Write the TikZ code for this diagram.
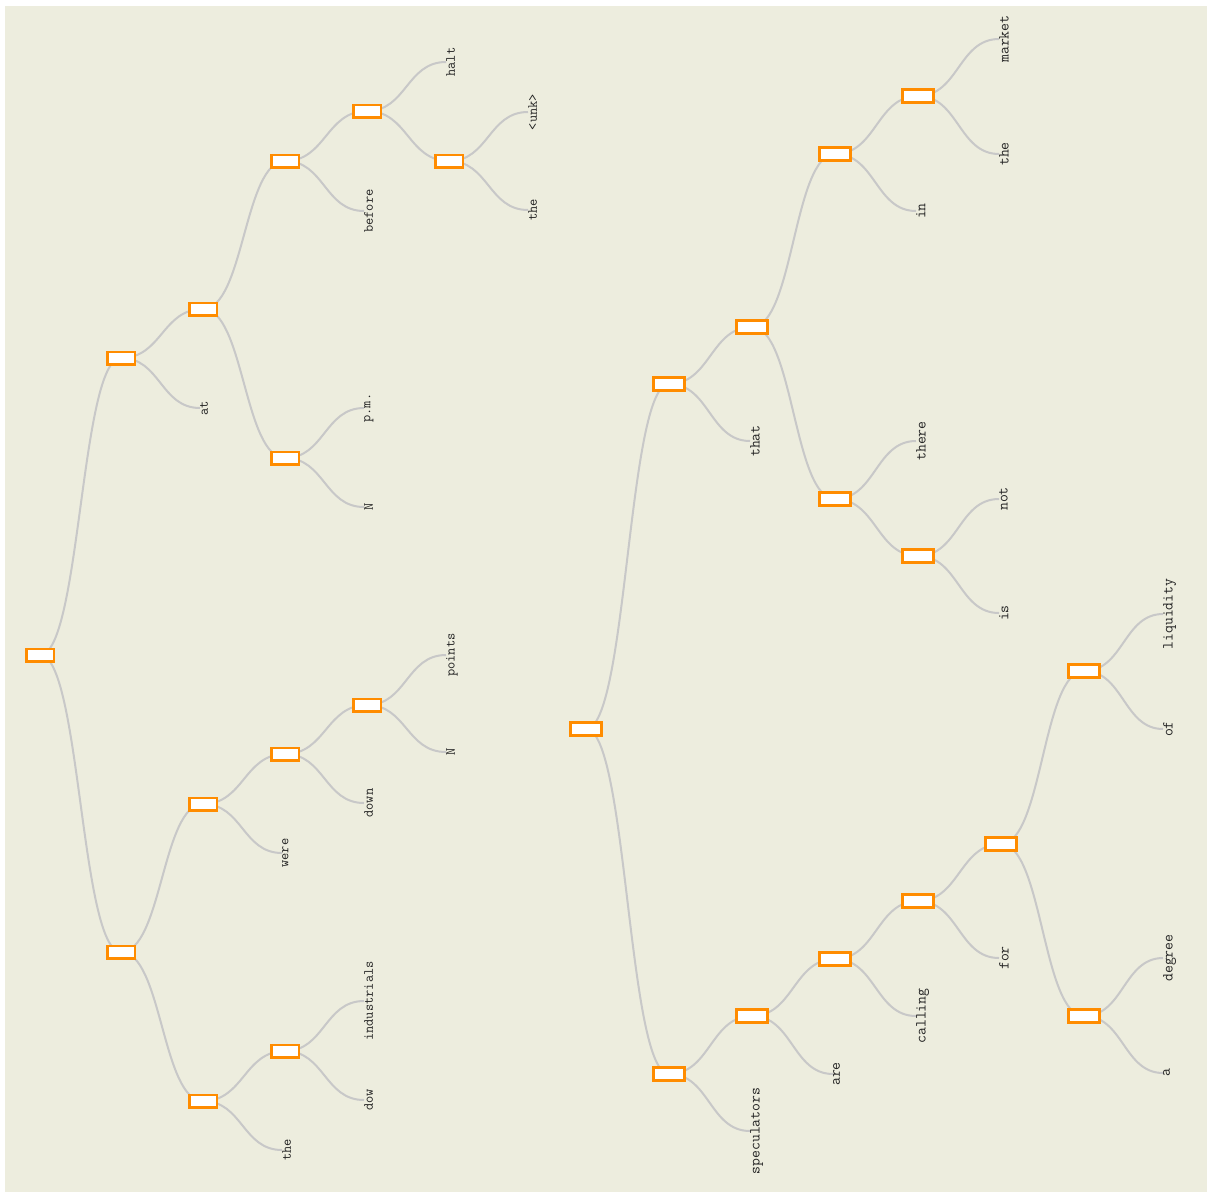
\documentclass[tikz,border=0pt]{standalone}
\usepackage{xcolor}
\usetikzlibrary{calc,backgrounds}
\definecolor{bg}{HTML}{EDEDDE}
\definecolor{boxc}{HTML}{FF8C00}
\definecolor{linec}{HTML}{C8C8C8}
\definecolor{textc}{HTML}{222222}

\begin{document}
\begin{tikzpicture}[x=1pt, y=-1pt, font=\ttfamily]
\useasboundingbox (0,0) rectangle (1207,1192);
\tikzset{box/.style={draw=boxc, fill=white, line width=2.5pt, minimum width=27.5pt, minimum height=12.5pt, inner sep=0pt},
  bigbox/.style={box, line width=2.7pt, minimum width=31pt, minimum height=13.5pt},
  word/.style={rotate=90, anchor=north, inner sep=0pt, text=textc, font=\ttfamily\fontsize{14}{14}\selectfont},
  bigword/.style={word, font=\ttfamily\fontsize{15.3}{16}\selectfont},
  link/.style={draw=linec, line width=2pt}}
\node[box] (p0) at (40,655) {};
\node[box] (p1) at (121,358) {};
\node[box] (p2) at (121,952) {};
\node[box] (p3) at (203,309) {};
\node[box] (p4) at (285,161) {};
\node[box] (p5) at (285,458) {};
\node[box] (p6) at (367,111) {};
\node[box] (p7) at (449,161) {};
\node[box] (p8) at (203,804) {};
\node[box] (p9) at (285,754) {};
\node[box] (p10) at (367,705) {};
\node[box] (p11) at (203,1101) {};
\node[box] (p12) at (285,1051) {};
\foreach \nm/\xx/\yy/\txt in {wat/200/408/at, wbefore/364/211/before, whalt/446/62/halt, wunk/528/112/<unk>, wthea/528/210/the, wpm/364/408/p.m., wNa/364/507/N, wpoints/446/655/points, wNb/446/752/N, wdown/364/803/down, wwere/282/853/were, windustrials/364/1001/industrials, wdow/364/1100/dow, wtheb/282/1150/the}{\node[word] (\nm) at (\xx,\yy) {\txt};}
\node[bigbox] (q0) at (586,729) {};
\node[bigbox] (q1) at (669,384) {};
\node[bigbox] (q2) at (752,327) {};
\node[bigbox] (q3) at (835,154) {};
\node[bigbox] (q4) at (918,96) {};
\node[bigbox] (q5) at (835,499) {};
\node[bigbox] (q6) at (918,556) {};
\node[bigbox] (q7) at (669,1074) {};
\node[bigbox] (q8) at (752,1016) {};
\node[bigbox] (q9) at (835,959) {};
\node[bigbox] (q10) at (918,901) {};
\node[bigbox] (q11) at (1001,844) {};
\node[bigbox] (q12) at (1084,671) {};
\node[bigbox] (q13) at (1084,1016) {};
\foreach \nm/\xx/\yy/\txt in {wthat/750/441/that, win/916/211/in, wmarket/999/39/market, wthec/999/154/the, wthere/916/441/there, wnot/999/499/not, wis/999/613/is, wspeculators/750/1131/speculators, ware/833/1074/are, wcalling/916/1016/calling, wfor/999/958/for, wliquidity/1163/614/liquidity, wof/1163/729/of, wdegree/1163/958/degree, wa/1163/1073/a}{\node[bigword] (\nm) at (\xx,\yy) {\txt};}
\begin{scope}[on background layer]
\fill[bg] (5,6) rectangle (1207,1192);
\foreach \a/\b in {p0/p1, p0/p2, p1/p3, p1/wat.north, p3/p4, p3/p5, p4/p6, p4/wbefore.north, p6/whalt.north, p6/p7, p7/wunk.north, p7/wthea.north, p5/wpm.north, p5/wNa.north, p2/p8, p2/p11, p8/p9, p8/wwere.north, p9/p10, p9/wdown.north, p10/wpoints.north, p10/wNb.north, p11/p12, p11/wtheb.north, p12/windustrials.north, p12/wdow.north,
  q0/q1, q0/q7, q1/q2, q1/wthat.north, q2/q3, q2/q5, q3/q4, q3/win.north, q4/wmarket.north, q4/wthec.north, q5/wthere.north, q5/q6, q6/wnot.north, q6/wis.north, q7/q8, q7/wspeculators.north, q8/q9, q8/ware.north, q9/q10, q9/wcalling.north, q10/q11, q10/wfor.north, q11/q12, q11/q13, q12/wliquidity.north, q12/wof.north, q13/wdegree.north, q13/wa.north}{\draw[link] let \p1=(\a), \p2=(\b), \p3=($(\p1)!.5!(\p2)$) in (\p1) .. controls (\x3,\y1) and (\x3,\y2) .. (\p2);}
\end{scope}
\end{tikzpicture}
\end{document}
